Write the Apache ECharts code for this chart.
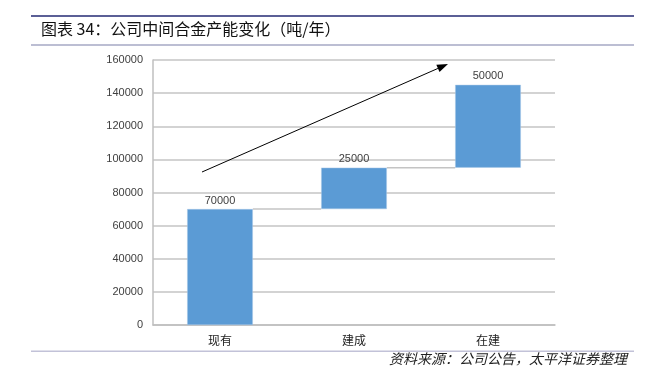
<!DOCTYPE html>
<html>
<head>
<meta charset="utf-8">
<script src="https://cdn.jsdelivr.net/npm/echarts@6/dist/echarts.min.js"></script>
<style>html,body{margin:0;padding:0;background:#fff}#c{width:657px;height:371px}</style>
</head>
<body>
<div id="c"></div>
<script>
const categories = ['现有', '建成', '在建'];
const increments = [70000, 25000, 50000];
const yTicks = [0, 20000, 40000, 60000, 80000, 100000, 120000, 140000, 160000];
const titleText = '图表 34：公司中间合金产能变化（吨/年）';
const sourceText = '资料来源：公司公告，太平洋证券整理';

// base offsets (cumulative before each bar)
const bases = [];
let acc = 0;
for (let i = 0; i < increments.length; i++) { bases.push(acc); acc += increments[i]; }
const tops = increments.map((v, i) => bases[i] + v);

const chart = echarts.init(document.getElementById('c'), null, {renderer: 'canvas'});
const axisFont = 'Liberation Sans, Arial, sans-serif';

// trend arrow (annotation)
const a0 = [202, 172], a1 = [448, 64];
const dx = a1[0] - a0[0], dy = a1[1] - a0[1], len = Math.sqrt(dx * dx + dy * dy);
const ux = dx / len, uy = dy / len, nx = -uy, ny = ux;
const hl = 11, hw = 4;
const bx = a1[0] - ux * hl, by = a1[1] - uy * hl;

chart.setOption({
  animation: false,
  grid: {left: 153, right: 102, top: 60, bottom: 46},
  xAxis: {
    type: 'category',
    data: categories,
    axisLine: {show: true, lineStyle: {color: '#bfbfbf', width: 1.5}},
    axisTick: {show: false},
    axisLabel: {color: '#222', fontSize: 12, fontFamily: 'Noto Sans CJK SC', margin: 9}
  },
  yAxis: {
    type: 'value',
    min: yTicks[0], max: yTicks[yTicks.length - 1], interval: yTicks[1] - yTicks[0],
    axisLine: {show: true, lineStyle: {color: '#bfbfbf', width: 1.5}},
    axisTick: {show: false},
    splitLine: {lineStyle: {color: '#c4c4c4', width: 1.5}},
    axisLabel: {color: '#404040', fontSize: 11, fontFamily: axisFont, margin: 10, formatter: v => String(v)}
  },
  series: [
    {
      type: 'bar', stack: 'w', data: bases, barWidth: '49%',
      itemStyle: {color: 'transparent'}, silent: true
    },
    {
      type: 'bar', stack: 'w', data: increments, barWidth: '49%',
      itemStyle: {color: '#5b9bd5', borderColor: '#a9c6e6', borderWidth: 0.5},
      label: {show: true, position: 'top', color: '#404040', fontSize: 11, fontFamily: axisFont, distance: 3}
    },
    {
      type: 'custom',
      data: tops.slice(0, tops.length - 1).map((v, i) => [i, v]),
      renderItem: function (params, api) {
        const i = api.value(0);
        const v = api.value(1);
        const p1 = api.coord([i, v]);
        const p2 = api.coord([i + 1, v]);
        const band = api.size([1, 0])[0];
        const half = band * 0.49 / 2;
        return {
          type: 'line',
          shape: {x1: p1[0] + half, y1: p1[1], x2: p2[0] - half, y2: p2[1]},
          style: {stroke: '#c4c4c4', lineWidth: 1.5}
        };
      },
      z: 1
    }
  ],
  graphic: [
    {type: 'rect', shape: {x: 31, y: 15, width: 603, height: 2}, style: {fill: '#5b5f96'}},
    {type: 'text', left: 41, top: 21, style: {text: titleText, fill: '#111', font: '16px "Noto Sans CJK SC"'}},
    {type: 'rect', shape: {x: 31, y: 44.5, width: 603, height: 1}, style: {fill: '#7b7fa8'}},
    {type: 'rect', shape: {x: 31, y: 350.5, width: 603, height: 1.5}, style: {fill: '#c2c2d8'}},
    {type: 'text', right: 30, top: 352, style: {text: sourceText, fill: '#222', font: 'italic 14px "Noto Sans CJK SC"'}},
    {type: 'line', z: 100, shape: {x1: a0[0], y1: a0[1], x2: bx, y2: by}, style: {stroke: '#000', lineWidth: 1}},
    {type: 'polygon', z: 100, shape: {points: [[a1[0], a1[1]], [bx + nx * hw, by + ny * hw], [bx - nx * hw, by - ny * hw]]}, style: {fill: '#000'}}
  ]
});
</script>
</body>
</html>
